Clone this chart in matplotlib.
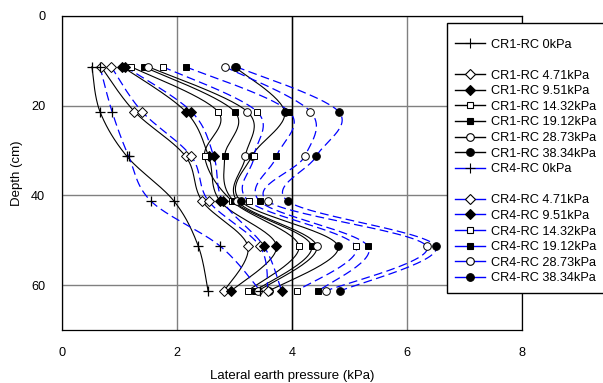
import numpy as np
import matplotlib
matplotlib.use("Agg")
import matplotlib.pyplot as plt
from matplotlib.lines import Line2D

plt.rcParams['font.family'] = ['Liberation Sans', 'DejaVu Sans']

# depths of the measuring points (cm)
depth = [11.3, 21.3, 31.3, 41.3, 51.3, 61.3]

loads = ['0kPa', '4.71kPa', '9.51kPa', '14.32kPa', '19.12kPa', '28.73kPa', '38.34kPa']

# lateral earth pressure (kPa), CR1-RC
cr1_0 = [0.52, 0.66, 1.13, 1.95, 2.37, 2.54]
cr1_471 = [0.68, 1.26, 2.15, 2.44, 3.23, 2.82]
cr1_951 = [1.05, 2.15, 2.55, 2.75, 3.73, 2.94]
cr1_1432 = [1.20, 2.71, 2.48, 2.96, 4.12, 3.23]
cr1_1912 = [1.42, 3.00, 2.83, 2.99, 4.34, 3.35]
cr1_2873 = [1.50, 3.22, 3.19, 3.05, 4.43, 3.41]
cr1_3834 = [3.00, 3.87, 3.30, 3.11, 4.80, 3.60]

# lateral earth pressure (kPa), CR4-RC
cr4_0 = [0.66, 0.87, 1.16, 1.55, 2.75, 3.45]
cr4_471 = [0.855, 1.39, 2.25, 2.55, 3.44, 3.58]
cr4_951 = [1.10, 2.25, 2.64, 2.80, 3.51, 3.82]
cr4_1432 = [1.75, 3.39, 3.34, 3.25, 5.11, 4.08]
cr4_1912 = [2.15, 3.95, 3.73, 3.44, 5.32, 4.46]
cr4_2873 = [2.83, 4.32, 4.22, 3.58, 6.34, 4.59]
cr4_3834 = [3.03, 4.81, 4.42, 3.93, 6.50, 4.84]

cr1 = [cr1_0, cr1_471, cr1_951, cr1_1432, cr1_1912, cr1_2873, cr1_3834]
cr4 = [cr4_0, cr4_471, cr4_951, cr4_1432, cr4_1912, cr4_2873, cr4_3834]

markers = ['+', 'D', 'D', 's', 's', 'o', 'o']
faces = ['none', 'white', 'black', 'white', 'black', 'white', 'black']
msizes = [7, 4.6, 4.6, 5, 5, 5.5, 5.5]

# px per data unit, used so the smoothing behaves like it does on screen
SX, SY = 57.3, 4.5


def smooth(x, y, n=30):
    # Excel style smoothed line (Catmull-Rom through the points)
    p = np.column_stack([np.asarray(x) * SX, np.asarray(y) * SY])
    p = np.vstack([p[0], p, p[-1]])
    out = []
    t = np.linspace(0, 1, n)[:, None]
    for i in range(1, len(p) - 2):
        p0, p1, p2, p3 = p[i - 1], p[i], p[i + 1], p[i + 2]
        c1 = p1 + (p2 - p0) / 6
        c2 = p2 - (p3 - p1) / 6
        seg = ((1 - t) ** 3 * p1 + 3 * (1 - t) ** 2 * t * c1
               + 3 * (1 - t) * t ** 2 * c2 + t ** 3 * p2)
        out.append(seg if i == 1 else seg[1:])
    out = np.vstack(out)
    return out[:, 0] / SX, out[:, 1] / SY


fig = plt.figure(figsize=(6.03, 3.83), dpi=100)
ax = fig.add_axes([62 / 603, 1 - 330 / 383, 460 / 603, 314 / 383])

blue = '#0000FF'
styles = [dict(color='black', lw=0.8, ls='-'),
          dict(color=blue, lw=0.9, ls=(0, (7, 3.5)))]

handles = []
for g, (group, name) in enumerate([(cr1, 'CR1-RC'), (cr4, 'CR4-RC')]):
    st = styles[g]
    for k, vals in enumerate(group):
        sx, sy = smooth(vals, depth)
        ax.plot(sx, sy, color=st['color'], lw=st['lw'], ls=st['ls'], zorder=2)
    for k, vals in enumerate(group):
        ax.plot(vals, depth, ls='none', marker=markers[k], ms=msizes[k],
                mfc=faces[k], mec='black', mew=0.9 if markers[k] == '+' else 0.7,
                zorder=3)
        h = Line2D([], [], color=st['color'], lw=1.0, marker=markers[k],
                   ms=msizes[k], mfc=faces[k], mec='black', mew=0.8,
                   label=f'{name} {loads[k]}')
        handles.append(h)
        if k == 0:
            handles.append(Line2D([], [], ls='none', label=' '))

ax.set_xlim(0, 8)
ax.set_ylim(70, 0)
ax.set_xticks([0, 2, 4, 6, 8])
ax.set_yticks([0, 20, 40, 60])
ax.grid(True, color='#808080', lw=1)
ax.axvline(4, color='black', lw=1, zorder=1.5)
ax.set_axisbelow(True)
for s in ax.spines.values():
    s.set_color('black')
    s.set_linewidth(0.9)
ax.tick_params(labelsize=9.2, length=0, pad=12)
ax.set_xlabel('Lateral earth pressure (kPa)', fontsize=9.5, labelpad=8)
ax.set_ylabel('Depth (cm)', fontsize=9.5, labelpad=6)

leg = ax.legend(handles=handles, loc='upper left',
                bbox_to_anchor=(447 / 603, 1 - 22.7 / 383),
                bbox_transform=fig.transFigure, borderaxespad=0,
                fontsize=9.2, handlelength=2.3, handletextpad=0.5,
                labelspacing=0.28, borderpad=0.65, numpoints=1,
                title=' ', title_fontsize=3,
                fancybox=False, framealpha=1, edgecolor='black')
leg.get_frame().set_linewidth(1.0)
leg.set_zorder(5)

fig.savefig('out.png', dpi=100)
